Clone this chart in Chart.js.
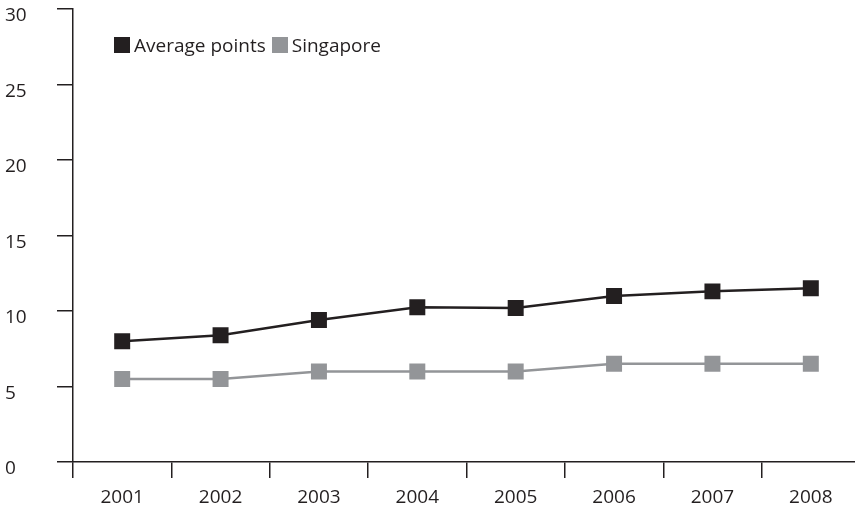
<!DOCTYPE html>
<html>
<head>
<meta charset="utf-8">
<script src="https://cdn.jsdelivr.net/npm/chart.js@4"></script>
<style>
  html, body { margin: 0; padding: 0; background: #fff; overflow: hidden; }
  #wrap { position: relative; width: 861px; height: 508px; }
  #legend { position: absolute; left: 114px; top: 32px; display: flex; align-items: center;
            font-family: "Open Sans", sans-serif; font-size: 19px; color: #231f20; }
  #legend .item { display: flex; align-items: center; margin-right: 6px; }
  #legend .box { width: 16px; height: 16px; margin-right: 4px; }
</style>
</head>
<body>
<div id="wrap">
  <canvas id="chart" width="861" height="508"></canvas>
  <div id="legend"></div>
</div>
<script>
const years = ['2001', '2002', '2003', '2004', '2005', '2006', '2007', '2008'];
const averagePoints = [8, 8.4, 9.4, 10.25, 10.2, 11, 11.3, 11.5];
const singapore = [5.5, 5.5, 6, 6, 6, 6.5, 6.5, 6.5];
const seriesNames = ['Average points', 'Singapore'];
const seriesColors = ['#231f20', '#939598'];

const ink = '#231f20';
const font = { family: '"Open Sans", sans-serif', size: 19 };

function makeSet(i, values) {
    return {
        label: seriesNames[i],
        data: values,
        borderColor: seriesColors[i],
        backgroundColor: seriesColors[i],
        borderWidth: 2.5,
        tension: 0,
        pointStyle: 'rect',
        pointRadius: 11.3,
        pointHoverRadius: 11.3,
        pointBorderWidth: 0
    };
}

const chart = new Chart(document.getElementById('chart'), {
    type: 'line',
    data: {
        labels: years,
        datasets: [makeSet(0, averagePoints), makeSet(1, singapore)]
    },
    options: {
        responsive: false,
        animation: false,
        layout: { autoPadding: false, padding: { left: 5, top: 0, right: 1, bottom: 0 } },
        plugins: { legend: { display: false }, tooltip: { enabled: false } },
        scales: {
            x: {
                offset: true,
                grid: { offset: true, drawOnChartArea: false, tickLength: 16, color: ink, lineWidth: 1.5 },
                border: { color: ink, width: 1.5 },
                ticks: { color: ink, font: font, padding: 8, maxRotation: 0 },
                afterFit: (s) => { s.height = 46; }
            },
            y: {
                min: 0,
                max: 30,
                grid: { drawOnChartArea: false, tickLength: 16, color: ink, lineWidth: 1.5 },
                border: { color: ink, width: 1.5 },
                ticks: { stepSize: 5, color: ink, font: font, crossAlign: 'far', labelOffset: 7 },
                afterFit: (s) => {
                    s.width = 68;
                    // the top label hangs below its tick, so only a small gap is needed
                    s.paddingTop = 9;
                    s.paddingBottom = 0;
                }
            }
        }
    }
});

// legend as html, from the dataset names and colours
const legend = document.getElementById('legend');
chart.data.datasets.forEach((ds) => {
    const item = document.createElement('span');
    item.className = 'item';
    const box = document.createElement('span');
    box.className = 'box';
    box.style.background = ds.backgroundColor;
    item.appendChild(box);
    item.appendChild(document.createTextNode(ds.label));
    legend.appendChild(item);
});
</script>
</body>
</html>
